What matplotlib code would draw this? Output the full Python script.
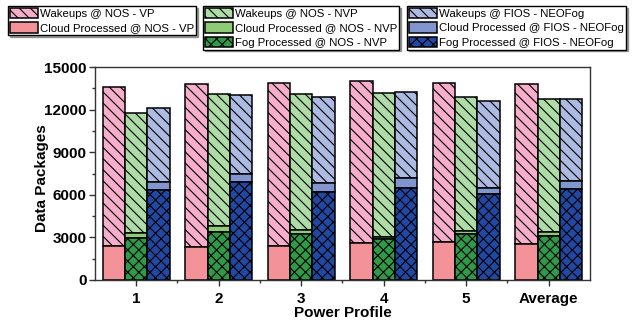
import numpy as np
import matplotlib
matplotlib.use("Agg")
import matplotlib.pyplot as plt

plt.rcParams['font.family'] = ['Liberation Sans', 'DejaVu Sans']
plt.rcParams['hatch.linewidth'] = 0.8
plt.rcParams['hatch.color'] = 'black'

profiles = ['1', '2', '3', '4', '5', 'Average']

# totals (top of each stacked bar) and lower segments
vp_total = [13600, 13800, 13880, 14020, 13880, 13830]
vp_cloud = [2410, 2300, 2370, 2600, 2650, 2510]

nvp_total = [11770, 13080, 13100, 13170, 12870, 12780]
nvp_cloud = [3330, 3800, 3490, 3050, 3470, 3400]
nvp_fog = [2930, 3350, 3230, 2860, 3260, 3090]

neo_total = [12120, 13010, 12890, 13270, 12640, 12780]
neo_cloud = [6920, 7430, 6800, 7150, 6450, 6990]
neo_fog = [6330, 6870, 6170, 6490, 6050, 6400]

c_vp_wake, c_vp_cloud = '#f6aecb', '#f4929a'
c_nvp_wake, c_nvp_cloud, c_nvp_fog = '#aedca6', '#8dcb77', '#2f9a47'
c_neo_wake, c_neo_cloud, c_neo_fog = '#adbbe2', '#8195cf', '#2149a3'

fig = plt.figure(figsize=(6.33, 3.24), dpi=100)
ax = fig.add_axes([0.150, 0.136, 0.782, 0.657])

x = np.arange(1, len(profiles) + 1)
w = 0.27
ekw = dict(edgecolor='black', linewidth=1.1)

vp_total = np.array(vp_total); vp_cloud = np.array(vp_cloud)
nvp_total = np.array(nvp_total); nvp_cloud = np.array(nvp_cloud); nvp_fog = np.array(nvp_fog)
neo_total = np.array(neo_total); neo_cloud = np.array(neo_cloud); neo_fog = np.array(neo_fog)

h1 = ax.bar(x - w, vp_total - vp_cloud, w, bottom=vp_cloud, color=c_vp_wake, hatch='\\\\\\', **ekw)
h2 = ax.bar(x - w, vp_cloud, w, color=c_vp_cloud, **ekw)

h3 = ax.bar(x, nvp_total - nvp_cloud, w, bottom=nvp_cloud, color=c_nvp_wake, hatch='\\\\\\', **ekw)
h4 = ax.bar(x, nvp_cloud - nvp_fog, w, bottom=nvp_fog, color=c_nvp_cloud, **ekw)
h5 = ax.bar(x, nvp_fog, w, color=c_nvp_fog, hatch='xxx', **ekw)

h6 = ax.bar(x + w, neo_total - neo_cloud, w, bottom=neo_cloud, color=c_neo_wake, hatch='\\\\\\', **ekw)
h7 = ax.bar(x + w, neo_cloud - neo_fog, w, bottom=neo_fog, color=c_neo_cloud, **ekw)
h8 = ax.bar(x + w, neo_fog, w, color=c_neo_fog, hatch='xxx', **ekw)

ax.set_xlim(0.5, 6.5)
ax.set_ylim(0, 15000)
ax.set_yticks(np.arange(0, 15001, 3000))
ax.set_yticks(np.arange(1500, 15000, 3000), minor=True)
ax.set_xticks(x)
ax.set_xticks(x[:-1] + 0.5, minor=True)
ax.set_xticklabels(profiles, fontweight='bold', fontsize=11)
for t in ax.get_yticklabels():
    t.set_fontweight('bold')
    t.set_fontsize(11)
ax.tick_params(which='major', direction='out', length=4, width=1, color='#333333')
ax.tick_params(axis='y', which='major', pad=2)
ax.tick_params(axis='x', which='major', pad=5)
ax.tick_params(which='minor', direction='out', length=2.5, width=1, color='#333333')
for s in ax.spines.values():
    s.set_color('#333333')
    s.set_linewidth(1)

ax.set_xlabel('Power Profile', fontweight='bold', fontsize=11, labelpad=0)
ax.set_ylabel('Data Packages', fontweight='bold', fontsize=11)
ax.yaxis.set_label_coords(-0.092, 0.48)

lkw = dict(loc='upper left', fontsize=8.2, frameon=True, fancybox=False,
           edgecolor='black', borderpad=0.15, labelspacing=0.3, handlelength=2.5,
           handleheight=1.05, handletextpad=0.2, borderaxespad=0, framealpha=1,
           shadow={'ox': 1.2, 'oy': -1.2})
l1 = fig.legend([h1, h2], ['Wakeups @ NOS - VP', 'Cloud Processed @ NOS - VP'],
                bbox_to_anchor=(8 / 633, 1 - 6 / 324), **lkw)
l2 = fig.legend([h3, h4, h5], ['Wakeups @ NOS - NVP', 'Cloud Processed @ NOS - NVP',
                               'Fog Processed @ NOS - NVP'],
                bbox_to_anchor=(203 / 633, 1 - 6 / 324), **lkw)
l3 = fig.legend([h6, h7, h8], ['Wakeups @ FIOS - NEOFog', 'Cloud Processed @ FIOS - NEOFog',
                               'Fog Processed @ FIOS - NEOFog'],
                bbox_to_anchor=(407 / 633, 1 - 6 / 324), **lkw)
for l in (l1, l2, l3):
    l.get_frame().set_linewidth(1.0)

fig.savefig('out.png', dpi=100)
